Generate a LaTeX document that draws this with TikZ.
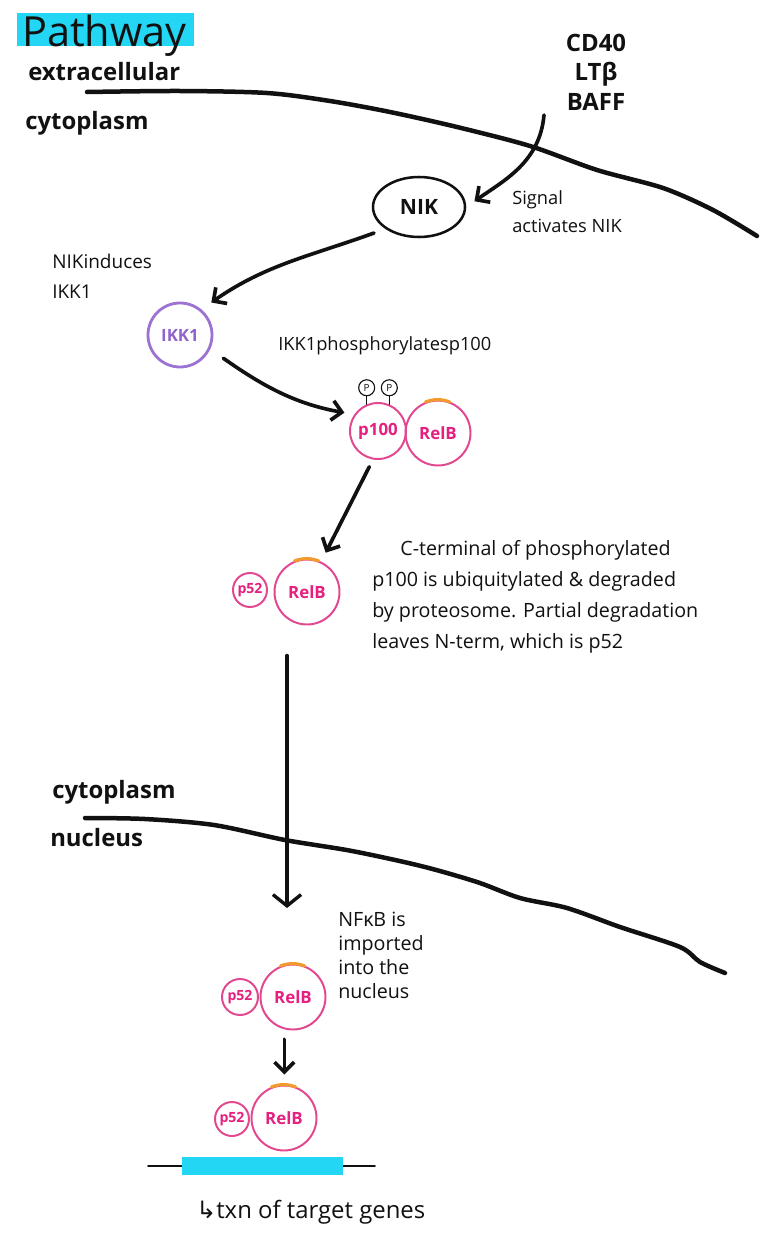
\documentclass[tikz,border=0pt]{standalone}
\usepackage{fontspec}
\setmainfont{Open Sans}
\newfontfamily\symb{DejaVu Sans}
\usetikzlibrary{arrows.meta,shapes.geometric}
\definecolor{hilite}{HTML}{22D6F4}
\definecolor{ink}{HTML}{111111}
\definecolor{relring}{HTML}{E2478F}
\definecolor{reltext}{HTML}{E5207E}
\definecolor{ubq}{HTML}{F29A2C}
\definecolor{ikkring}{HTML}{9C72D2}
\definecolor{ikktext}{HTML}{8F62CC}

\begin{document}
\begin{tikzpicture}[x=0.25mm,y=-0.25mm,line join=round,line cap=round,
  hand/.style={font=\fontsize{13}{20}\selectfont,text=ink,inner sep=0pt},
  tag/.style={font=\bfseries\fontsize{17}{21}\selectfont,text=ink,inner sep=0pt,anchor=base west},
  membrane/.style={ink,line width=3.2pt},
  flow/.style={ink,-{Straight Barb[length=7pt,width=14pt]},line width=2.6pt},
  prot/.style={circle,draw=relring,line width=1.4pt,inner sep=0pt,text=reltext,font=\bfseries\fontsize{12}{12}\selectfont},
  small/.style={prot,minimum size=8.5mm,font=\bfseries\fontsize{10}{10}\selectfont},
  big/.style={prot,minimum size=16.25mm},
  phos/.style={circle,draw=ink,line width=0.8pt,inner sep=0pt,minimum size=4mm,font=\fontsize{7}{7}\selectfont}]
  \useasboundingbox (0,0) rectangle (771,1256);
  \fill[white] (0,0) rectangle (771,1256);

  % ===== title and compartments =====
  \fill[hilite] (17,13) rectangle (194,46);
  \node[font=\fontsize{29.5}{30}\selectfont,text=ink,inner sep=0pt,anchor=base west] (title) at (22,46) {Pathway};
  \node[tag] (extra) at (28,80) {extracellular};
  \node[tag] (cyto1) at (25,129) {cytoplasm};
  \node[tag] (cyto2) at (52,798) {cytoplasm};
  \node[tag] (nucl) at (50,846) {nucleus};

  % plasma membrane
  \draw[membrane] plot[smooth,tension=0.5] coordinates {(87,92) (180,91) (267,93) (330,101) (390,112) (457,127)
    (530,146) (597,170) (663,188) (713,210) (757,236)};
  % nuclear envelope
  \draw[membrane] plot[smooth,tension=0.5] coordinates {(85,818) (145,819) (214,825) (285,840) (352,851) (421,866)
    (477,882) (520,898) (567,908) (620,927) (680,947) (700,962) (725,973)};

  % ===== signal and kinases =====
  \node[tag,anchor=center,align=center] (ligands) at (596,72) {CD40\\LTβ\\BAFF};
  \coordinate (sig) at (544,115);
  \node[ellipse,draw=ink,line width=1.8pt,minimum width=23mm,minimum height=15mm,inner sep=0pt,
    font=\bfseries\fontsize{15}{15}\selectfont,text=ink] (nik) at (419,207) {NIK};
  \node[hand,anchor=north west,align=left] (nsig) at (512,190) {Signal\\activates NIK};
  \node[circle,draw=ikkring,line width=2pt,minimum size=16mm,inner sep=0pt,text=ikktext,
    font=\bfseries\fontsize{12}{12}\selectfont] (ikk1) at (180,335) {IKK1};
  \node[hand,anchor=north west,align=left,font=\fontsize{13.5}{21}\selectfont] (nind) at (52,254) {NIKinduces\\IKK1};
  \node[hand,anchor=base west] (nphos) at (278,350) {IKK1phosphorylatesp100};

  % ===== p100/RelB and processing =====
  \node[prot,minimum size=14mm] (p100) at (378,431) {p100};
  \node[big] (relb1) at (438,433) {RelB};
  \foreach \a/\n in {113/pa,67/pb}{
    \draw[ink,line width=0.8pt] (p100.\a) -- ++(0,-8) node[phos,anchor=south] (\n) {P};
  }
  \node[small] (p52a) at (250,590) {p52};
  \node[big] (relb2) at (307,592) {RelB};
  \node[hand,anchor=north west,align=left,font=\fontsize{14}{22}\selectfont] (ndeg) at (372,540)
    {\hspace*{20pt}C-terminal of phosphorylated\\p100 is ubiquitylated \& degraded\\by proteosome. Partial degradation\\leaves N-term, which is p52};

  % ===== nucleus =====
  \node[small,minimum size=9mm] (p52b) at (240,997) {p52};
  \node[big] (relb3) at (293,997) {RelB};
  \node[hand,anchor=north west,align=left,font=\fontsize{14}{17}\selectfont] (nimp) at (338,912)
    {NFκB is\\imported\\into the\\nucleus};
  \node[small] (p52c) at (232,1119) {p52};
  \node[big] (relb4) at (284,1118) {RelB};

  % ubiquitin caps
  \foreach \r in {relb1,relb2,relb3,relb4}{
    \draw[ubq,line width=2.2pt] (\r.112) arc[start angle=112,end angle=68,radius=8.1mm];
  }

  % target gene
  \draw[ink,line width=1.2pt] (148,1166) -- (375,1166);
  \fill[hilite] (182,1157) rectangle (343,1175);
  \node[hand,anchor=base west,font=\fontsize{17}{17}\selectfont] (txn) at (196,1218) {{\symb ↳}txn of target genes};

  % ===== arrows =====
  \coordinate (imp) at (287,908);
  \draw[flow,shorten >=2.5mm] (sig) to[out=-95,in=35] (nik.east);
  \draw[flow,shorten <=3mm,shorten >=3mm] (nik.213) to[out=200,in=35] (ikk1.50);
  \draw[flow,shorten <=4mm,shorten >=2.5mm] (ikk1.-25) to[out=-35,in=170] (p100.145);
  \draw[flow,shorten <=2mm,shorten >=2.5mm] (p100.-100) -- (relb2.65);
  \draw[ink,line width=2.4pt,-{Straight Barb[length=8pt,width=20pt]},shorten <=7.5mm] (relb2.south -| imp) -- (imp);
  \draw[flow,shorten <=2.5mm,shorten >=2.5mm] (relb3.-105) -- (relb3.-105 |- relb4.north);
\end{tikzpicture}
\end{document}
